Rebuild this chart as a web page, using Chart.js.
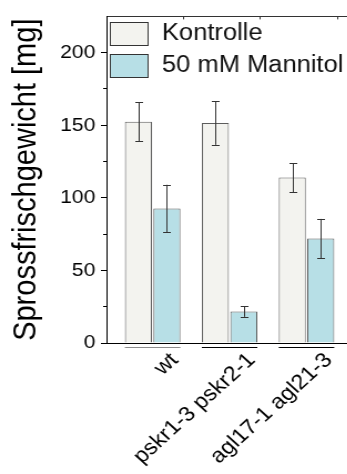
<!DOCTYPE html>
<html>
<head>
<meta charset="utf-8">
<script src="https://cdn.jsdelivr.net/npm/chart.js@4.4.1/dist/chart.umd.min.js"></script>
<style>
  html, body { margin: 0; padding: 0; background: #fff; overflow: hidden; }
  #wrap { width: 347px; height: 474px; overflow: hidden; }
</style>
</head>
<body>
<div id="wrap">
  <canvas id="massChart" width="330" height="474" style="width:366px;height:474px;display:block"></canvas>
</div>
<script>
// data (fresh shoot weight, mg)
const groups = ["wt", "pskr1-3 pskr2-1", "agl17-1 agl21-3"];
const groupPos = [1, 2, 3];
const controlMean = [152.5, 151.5, 114];
const controlErr = [13.5, 15, 10];
const mannitolMean = [92.7, 21.7, 72];
const mannitolErr = [16.3, 3.7, 13.5];
const yMajorTicks = [0, 50, 100, 150, 200];
const yMinorTicks = [25, 75, 125, 175];
const topTicks = [0.4, 1.4, 2.4, 3.4];

const underlineColors = ["#8c8c8c", "#000", "#000"];

Chart.defaults.font.family = "'Liberation Sans', Arial, sans-serif";
Chart.defaults.color = "#000";

const toPoints = (vals) => vals.map((v, i) => ({ x: groupPos[i], y: v }));

const errorBars = {
  id: "errorBars",
  afterDatasetsDraw(chart) {
    const ctx = chart.ctx;
    const yScale = chart.scales.y;
    [controlErr, mannitolErr].forEach((errs, d) => {
      const meta = chart.getDatasetMeta(d);
      const pts = chart.data.datasets[d].data;
      meta.data.forEach((bar, i) => {
        const top = yScale.getPixelForValue(pts[i].y + errs[i]);
        const bot = yScale.getPixelForValue(pts[i].y - errs[i]);
        const x = Math.round(bar.x) + 0.5;
        ctx.save();
        ctx.strokeStyle = "#333";
        ctx.lineWidth = 1;
        ctx.beginPath();
        ctx.moveTo(x, top); ctx.lineTo(x, bot);
        ctx.moveTo(x - 3.5, Math.round(top) + 0.5); ctx.lineTo(x + 3.5, Math.round(top) + 0.5);
        ctx.moveTo(x - 3.5, Math.round(bot) + 0.5); ctx.lineTo(x + 3.5, Math.round(bot) + 0.5);
        ctx.stroke();
        ctx.restore();
      });
    });
  }
};

const groupLines = {
  id: "groupLines",
  afterDraw(chart) {
    const ctx = chart.ctx;
    const a = chart.getDatasetMeta(0).data;
    const b = chart.getDatasetMeta(1).data;
    const y = Math.round(chart.chartArea.bottom) + 4.5;
    groups.forEach((g, i) => {
      ctx.save();
      ctx.strokeStyle = underlineColors[i];
      ctx.lineWidth = 1;
      ctx.beginPath();
      ctx.moveTo(a[i].x - a[i].width / 2, y);
      ctx.lineTo(b[i].x + b[i].width / 2, y);
      ctx.stroke();
      ctx.restore();
    });
  }
};

const boxLegend = {
  id: "boxLegend",
  afterDraw(chart) {
    const ctx = chart.ctx;
    const area = chart.chartArea;
    const left = Math.round(area.left) + 3;
    let top = Math.round(area.top) + 6;
    chart.data.datasets.forEach((ds) => {
      ctx.save();
      ctx.fillStyle = ds.backgroundColor;
      ctx.fillRect(left, top, 34, 23);
      ctx.strokeStyle = "#333";
      ctx.lineWidth = 1;
      ctx.strokeRect(left + 0.5, top + 0.5, 34, 23);
      ctx.fillStyle = "#111";
      ctx.font = "23px 'Liberation Sans', Arial, sans-serif";
      ctx.textBaseline = "middle";
      ctx.fillText(ds.label, left + 47, top + 12);
      ctx.restore();
      top += 32;
    });
  }
};

new Chart(document.getElementById("massChart"), {
  type: "bar",
  data: {
    datasets: [
      {
        label: "Kontrolle",
        data: toPoints(controlMean),
        backgroundColor: "#f3f3ef",
        borderColor: "#5c5c5c",
        borderWidth: 1,
        categoryPercentage: 0.74,
        barPercentage: 0.95
      },
      {
        label: "50 mM Mannitol",
        data: toPoints(mannitolMean),
        backgroundColor: "#b7dfe6",
        borderColor: "#5c5c5c",
        borderWidth: 1,
        categoryPercentage: 0.74,
        barPercentage: 0.95
      }
    ]
  },
  options: {
    responsive: false,
    devicePixelRatio: 1,
    animation: false,
    layout: { padding: { top: 13, right: 12, left: 0, bottom: 0 } },
    plugins: { legend: { display: false }, tooltip: { enabled: false } },
    scales: {
      x: {
        type: "linear",
        position: "bottom",
        offset: false,
        min: 0.4,
        max: 3.6,
        afterBuildTicks: (s) => { s.ticks = groupPos.map((v) => ({ value: v })); },
        afterFit: (s) => { s.height = 131; s.paddingLeft = 0; s.paddingRight = 0; },
        grid: { offset: false, drawOnChartArea: false, drawTicks: false },
        border: { display: true, color: "#000", width: 1 },
        ticks: {
          autoSkip: false,
          minRotation: 45,
          maxRotation: 45,
          padding: 5,
          labelOffset: 20,
          font: { size: 21 },
          color: "#000",
          callback: (v) => groups[groupPos.indexOf(v)] ?? ""
        }
      },
      x2: {
        type: "linear",
        position: "top",
        offset: false,
        min: 0.4,
        max: 3.6,
        afterBuildTicks: (s) => { s.ticks = topTicks.map((v) => ({ value: v })); },
        afterFit: (s) => { s.height = 0; },
        grid: { offset: false, drawOnChartArea: false, drawTicks: true, tickLength: -3, tickColor: "#333" },
        border: { display: true, color: "#333", width: 1 },
        ticks: { display: false }
      },
      y: {
        min: 0,
        max: 225,
        position: "left",
        weight: 1,
        afterBuildTicks: (s) => { s.ticks = yMajorTicks.map((v) => ({ value: v })); },
        afterFit: (s) => { s.width = 96; },
        grid: { drawOnChartArea: false, drawTicks: true, tickLength: 5, tickColor: "#000" },
        border: { display: true, color: "#000", width: 1 },
        ticks: { font: { size: 19 }, color: "#000", padding: 5 },
        title: {
          display: true,
          text: "Sprossfrischgewicht [mg]",
          font: { size: 29 },
          color: "#000",
          padding: { top: 7, bottom: 0 }
        }
      },
      yMinor: {
        min: 0,
        max: 225,
        position: "left",
        weight: 0,
        afterBuildTicks: (s) => { s.ticks = yMinorTicks.map((v) => ({ value: v })); },
        afterFit: (s) => { s.width = 0; },
        grid: { drawOnChartArea: false, drawTicks: true, tickLength: 3, tickColor: "#000" },
        border: { display: false },
        ticks: { display: false }
      }
    }
  },
  plugins: [errorBars, groupLines, boxLegend]
});
</script>
</body>
</html>
